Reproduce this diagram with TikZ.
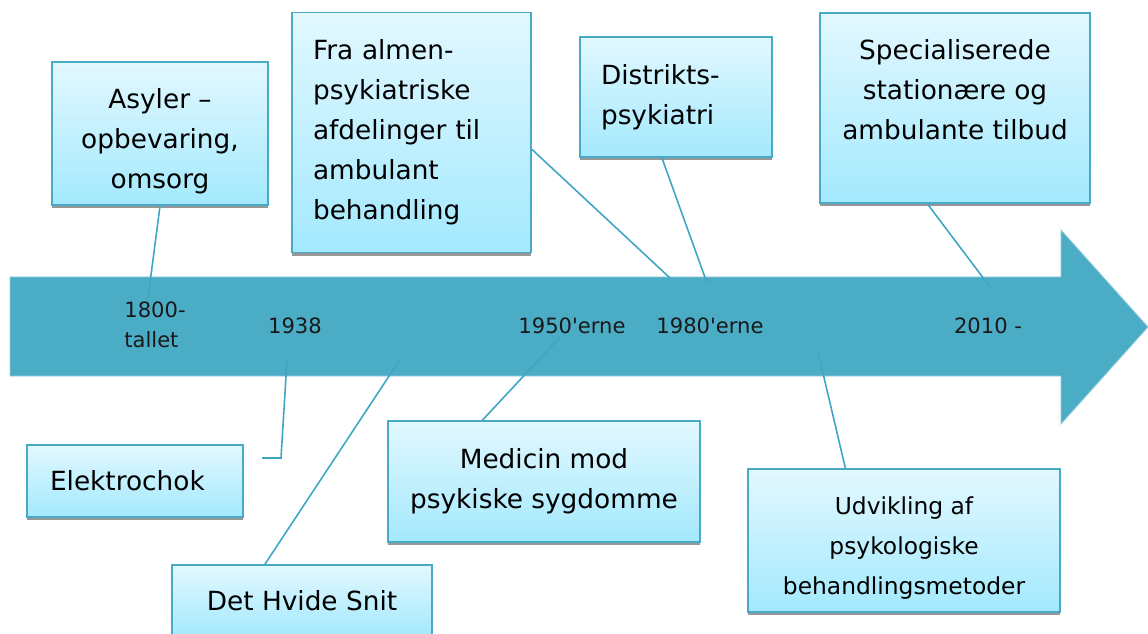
\documentclass[tikz,border=0pt]{standalone}
\usepackage{fontspec}
\setmainfont{DejaVu Sans}
\newfontfamily\aarfont{DejaVu Sans}
\usetikzlibrary{shadows}
\definecolor{pilfarve}{RGB}{75,172,198}
\definecolor{pilkant}{RGB}{150,205,222}
\definecolor{kantfarve}{RGB}{72,170,198}
\definecolor{boksTop}{RGB}{226,248,255}
\definecolor{boksBund}{RGB}{163,233,253}
\definecolor{stregfarve}{RGB}{62,166,196}
\definecolor{aarfarve}{RGB}{25,25,25}

\begin{document}
\begin{tikzpicture}[x=0.02cm, y=-0.02cm,
  boks/.style={draw=kantfarve, line width=1.1pt, top color=boksTop, bottom color=boksBund,
    inner sep=0pt, font=\fontsize{15}{22.8}\selectfont, align=center,
    drop shadow={shadow xshift=0pt, shadow yshift=-1.8pt, fill=black!45, opacity=0.9}},
  aar/.style={font=\aarfont\fontsize{12}{17}\selectfont, text=aarfarve, inner sep=0pt},
  streg/.style={draw=stregfarve, line width=0.9pt}]
\useasboundingbox (0,0) rectangle (1148,634);

% Tidslinje
\fill[pilfarve, draw=pilkant, line width=0.5pt] (10,277) -- (1061,277) -- (1061,230) -- (1148,327)
  -- (1061,424) -- (1061,376) -- (10,376) -- cycle;

% Punkter paa pilen
\coordinate (p1800) at (148,298);
\coordinate (p1938) at (287,360);
\coordinate (knaek) at (281,458);
\coordinate (elekend) at (262,458);
\coordinate (psnit) at (399,361);
\coordinate (p1950) at (560,337);
\coordinate (palmen) at (670,278);
\coordinate (pdistr) at (707,283);
\coordinate (pudvik) at (818,352);
\coordinate (p2010) at (990,287);

% Bokse over pilen
\node[boks, minimum width=4.32cm, minimum height=2.86cm, text height=66.1pt] (asyl) at (160,133.5) {Asyler –\\opbevaring,\\omsorg};
\node[boks, minimum width=4.78cm, minimum height=4.8cm, text width=3.94cm, align=left] (almen) at (411.5,132.5) {Fra almen-\\psykiatriske\\afdelinger til\\ambulant\\behandling};
\node[boks, minimum width=3.84cm, minimum height=2.4cm, text width=3.0cm, align=left] (distr) at (676,97) {Distrikts-\\psykiatri};
\node[boks, minimum width=5.4cm, minimum height=3.8cm, text height=36.4pt] (spec) at (955,108) {Specialiserede\\stationære og\\ambulante tilbud};

% Bokse under pilen
\node[boks, minimum width=4.32cm, minimum height=1.44cm, text width=3.4cm, align=left] (elektro) at (135,481) {Elektrochok};
\node[boks, minimum width=5.2cm, minimum height=1.44cm] (snit) at (302,601) {Det Hvide Snit};
\node[boks, minimum width=6.24cm, minimum height=2.42cm] (medicin) at (544,481.5) {Medicin mod\\psykiske sygdomme};
\node[boks, minimum width=6.24cm, minimum height=2.86cm, text height=64.8pt, font=\fontsize{13.3}{22.8}\selectfont] (udvik) at (904,540.5) {Udvikling af\\psykologiske\\behandlingsmetoder};

% Streger
\draw[streg] (asyl.south) -- (p1800);
\draw[streg] (almen.-8) -- (palmen);
\draw[streg] (distr.-103) -- (pdistr);
\draw[streg] (spec.-106) -- (p2010);
\draw[streg] (elekend) -- (knaek) -- (p1938);
\draw[streg] (snit.135) -- (psnit);
\draw[streg] (medicin.135) -- (p1950);
\draw[streg] (udvik.129.5) -- (pudvik);

% Aarstal
\node[aar, align=left] (t1800) at (155,325) {1800-\\tallet};
\node[aar] (t1938) at (295,326) {1938};
\node[aar] (t1950) at (572,326) {1950'erne};
\node[aar] (t1980) at (710,326) {1980'erne};
\node[aar] (t2010) at (988,326) {2010 -};
\end{tikzpicture}
\end{document}
